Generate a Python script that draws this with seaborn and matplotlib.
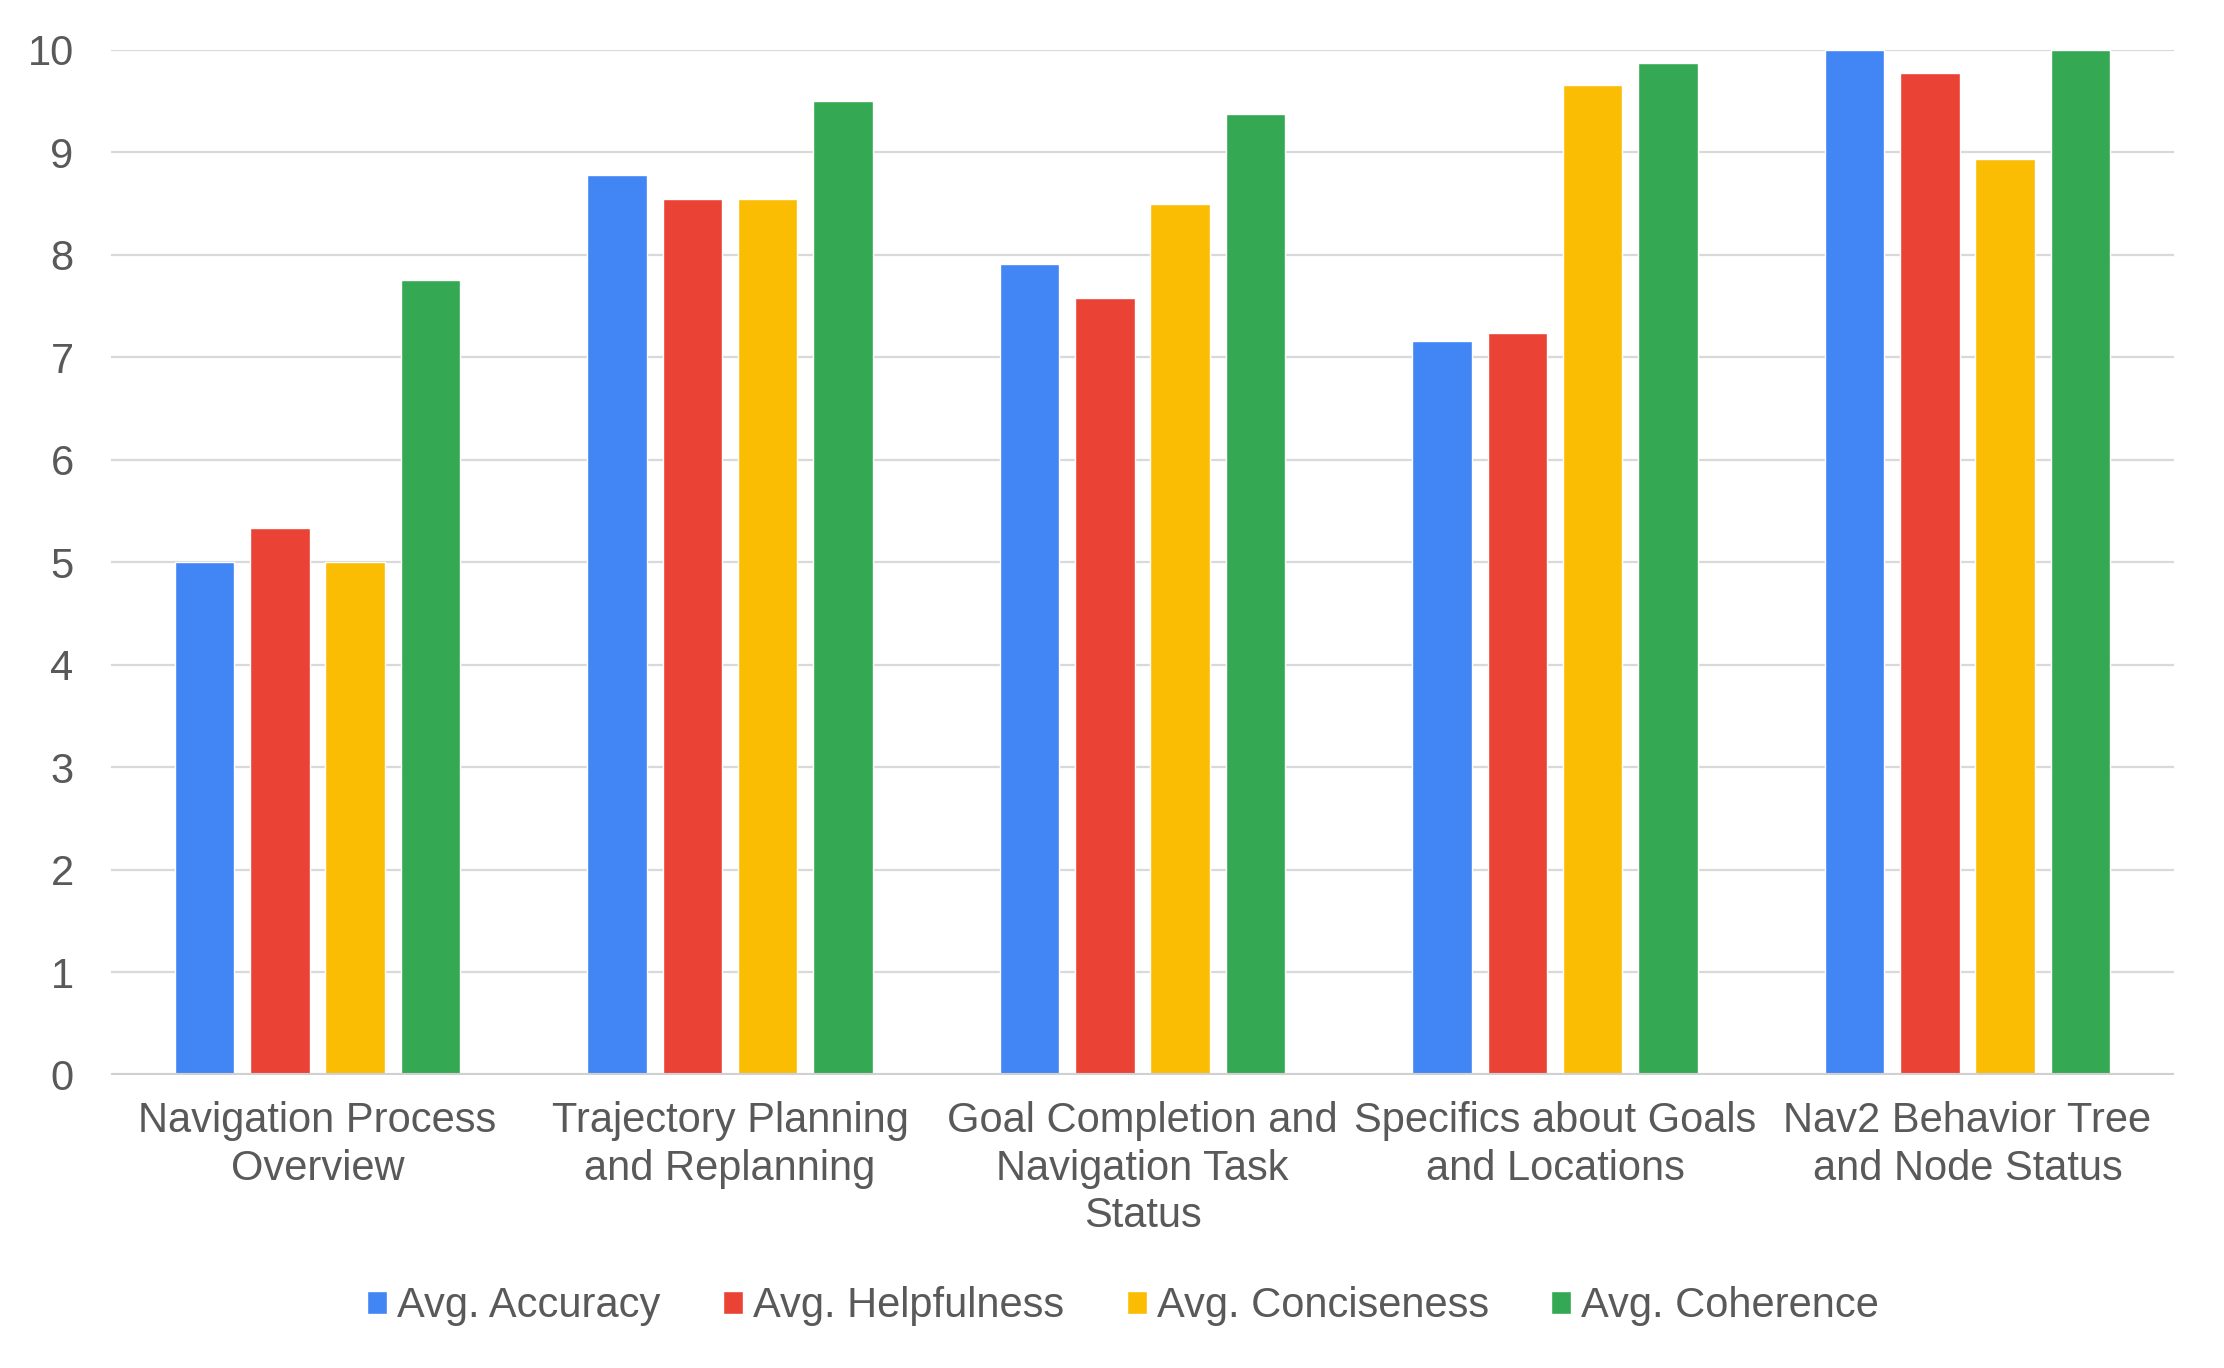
import matplotlib
matplotlib.use("Agg")
import matplotlib.pyplot as plt
import seaborn as sns
import pandas as pd

categories = [
    "Navigation Process\nOverview",
    "Trajectory Planning\nand Replanning",
    "Goal Completion and\nNavigation Task\nStatus",
    "Specifics about Goals\nand Locations",
    "Nav2 Behavior Tree\nand Node Status",
]
metrics = ["Avg. Accuracy", "Avg. Helpfulness", "Avg. Conciseness", "Avg. Coherence"]
accuracy = [5.0, 8.78, 7.91, 7.16, 10.0]
helpfulness = [5.33, 8.55, 7.58, 7.24, 9.77]
conciseness = [5.0, 8.55, 8.5, 9.66, 8.94]
coherence = [7.75, 9.5, 9.37, 9.87, 10.0]
colors = ["#4285F4", "#EA4335", "#FBBC04", "#34A853"]

df = pd.DataFrame({"category": categories, metrics[0]: accuracy, metrics[1]: helpfulness,
                   metrics[2]: conciseness, metrics[3]: coherence})
long = df.melt(id_vars="category", var_name="metric", value_name="score")

sns.set_style("white")
plt.rcParams["font.family"] = ["Liberation Sans", "DejaVu Sans"]
text_col = "#595959"

fig = plt.figure(figsize=(22.24, 13.68), dpi=100)
ax = fig.add_axes([0.05, 0.2145, 0.9274, 0.749])

sns.barplot(data=long, x="category", y="score", hue="metric", hue_order=metrics,
            palette=colors, width=0.73, gap=0.21, saturation=1, ax=ax, zorder=3)

ax.set_ylim(0, 10)
ax.set_yticks(range(0, 11))
ax.yaxis.grid(True, color="#d9d9d9", linewidth=1.6, zorder=0)
ax.set_axisbelow(True)
ax.axhline(0, color="#d0d0d0", linewidth=3, zorder=4)
for s in ax.spines.values():
    s.set_visible(False)
ax.set_xlabel("")
ax.set_ylabel("")
ax.tick_params(axis="y", length=0, pad=27, labelsize=30, labelcolor=text_col)
ax.tick_params(axis="x", length=0, pad=19, labelsize=30, labelcolor=text_col)
for lab in ax.get_xticklabels():
    lab.set_linespacing(1.25)

handles, labels = ax.get_legend_handles_labels()
ax.get_legend().remove()
fig.legend(handles, labels, loc="center", bbox_to_anchor=(0.505, 0.045), ncol=4,
           frameon=False, fontsize=30, labelcolor=text_col, handlelength=0.48,
           handleheight=0.48, handletextpad=0.24, columnspacing=1.5)

fig.savefig("out.png", dpi=100)
